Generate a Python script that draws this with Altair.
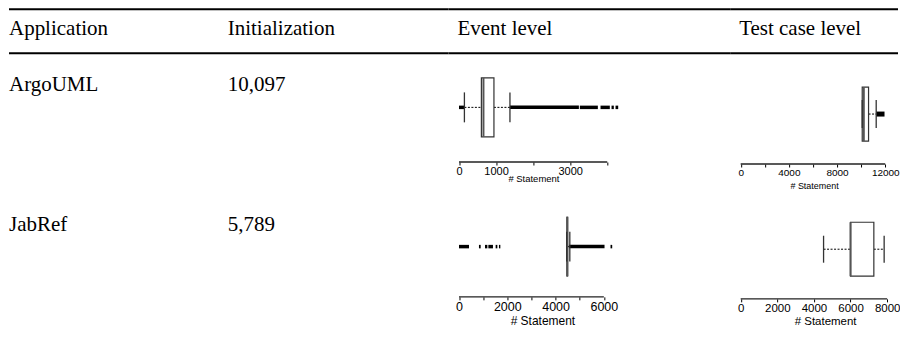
import altair as alt
import pandas as pd

# ---------------- data ----------------
headers_left = ["Application", "Initialization"]
header_event = "Event level"
header_test = "Test case level"

apps = ["ArgoUML", "JabRef"]
init_values = ["10,097", "5,789"]

# event level box statistics (ArgoUML, JabRef)
event_lower = [146, 4460]
event_q1 = [604, 4470]
event_median = [660, 4485]
event_q3 = [943, 4500]
event_upper = [1375, 4590]

# test case level box statistics (ArgoUML, JabRef)
test_lower = [10090, 4527]
test_q1 = [10090, 6000]
test_median = [10220, 6000]
test_q3 = [10615, 7273]
test_upper = [11250, 7836]

# outlier runs (start, end)
argo_event_out_start = [0, 1375, 3261, 3819, 4116, 4224]
argo_event_out_end = [135, 3235, 3747, 4070, 4178, 4296]
jab_event_out_start = [0, 827, 1076, 1216, 1518, 1655, 4551, 6276]
jab_event_out_end = [414, 898, 1175, 1407, 1589, 1713, 6028, 6346]
argo_test_out_start = [11252]
argo_test_out_end = [11940]
jab_test_out_start = []
jab_test_out_end = []

argo_event_ticks = [0, 1000, 2000, 3000, 4000]
argo_event_labels = [0, 1000, 3000]
argo_test_ticks = [0, 2000, 4000, 6000, 8000, 10000, 12000]
argo_test_labels = [0, 4000, 8000, 12000]
jab_event_ticks = [0, 1000, 2000, 3000, 4000, 5000, 6000]
jab_event_labels = [0, 2000, 4000, 6000]
jab_test_ticks = [0, 2000, 4000, 6000, 8000]
jab_test_labels = [0, 2000, 4000, 6000, 8000]

axis_title = "# Statement"

# ---------------- layout ----------------
W_LEFT, W_MID, W_RIGHT = 440, 282, 168
H_HEAD = 47
SERIF = "Liberation Serif"
SANS = "Liberation Sans"


def header_panel(texts, xs, width):
    layers = []
    for t, x in zip(texts, xs):
        layers.append(
            alt.Chart(pd.DataFrame({"t": [t]}))
            .mark_text(font=SERIF, fontSize=21, align="left", baseline="alphabetic", color="black")
            .encode(text="t:N", x=alt.value(x), y=alt.value(27))
        )
    for y in [1, 45]:
        layers.append(
            alt.Chart(pd.DataFrame({"a": [0]}))
            .mark_rule(color="black", strokeWidth=2)
            .encode(x=alt.value(0), x2=alt.value(width), y=alt.value(y))
        )
    return alt.layer(*layers).properties(width=width, height=H_HEAD)


def text_panel(texts, xs, baseline, height):
    layers = []
    for t, x in zip(texts, xs):
        layers.append(
            alt.Chart(pd.DataFrame({"t": [t]}))
            .mark_text(font=SERIF, fontSize=21, align="left", baseline="alphabetic", color="black")
            .encode(text="t:N", x=alt.value(x), y=alt.value(baseline))
        )
    return alt.layer(*layers).properties(width=W_LEFT, height=height)


def box_panel(i, lower, q1, med, q3, upper, out_s, out_e, ticks, labels,
              px_per_unit, width, height, center, box_h, cap_h, out_w,
              label_size, title_size, title_x, title_y):
    offset = 10.5
    d0 = -offset / px_per_unit
    d1 = (width - offset) / px_per_unit
    sc = alt.Scale(domain=[d0, d1], nice=False, zero=False)
    lab = "[" + ",".join(str(v) for v in labels) + "]"
    ax = alt.Axis(
        values=ticks, domain=False, grid=False, ticks=True, tickSize=3,
        tickColor="black", tickWidth=1,
        labelExpr=f"indexof({lab}, datum.value) >= 0 ? format(datum.value, 'd') : ''",
        labelFont=SANS, labelFontSize=label_size, labelColor="black", labelPadding=1,
        labelOverlap=False, labelFlush=False, labelBound=False,
        title=axis_title, titleFont=SANS, titleFontSize=title_size,
        titleFontWeight="normal", titleColor="black", titleX=title_x, titleY=title_y,
        titleBaseline="alphabetic", titleAlign="center",
    )
    stats = pd.DataFrame({"lo": [lower[i]], "q1": [q1[i]], "med": [med[i]],
                          "q3": [q3[i]], "hi": [upper[i]],
                          "a0": [ticks[0]], "a1": [ticks[-1]]})
    layers = []
    if out_s:
        outs = pd.DataFrame({"s": out_s, "e": out_e})
        layers.append(
            alt.Chart(outs).mark_rule(color="black", strokeWidth=out_w, strokeCap="butt")
            .encode(x=alt.X("s:Q", scale=sc, axis=ax), x2="e:Q", y=alt.value(center))
        )
    base = alt.Chart(stats)
    layers += [
        base.mark_rule(color="black", strokeWidth=1, strokeDash=[2, 1.5])
        .encode(x=alt.X("lo:Q", scale=sc, axis=ax), x2="q1:Q", y=alt.value(center)),
        base.mark_rule(color="black", strokeWidth=1, strokeDash=[2, 1.5])
        .encode(x=alt.X("q3:Q", scale=sc, axis=ax), x2="hi:Q", y=alt.value(center)),
        base.mark_rect(fill="white", stroke="#333333", strokeWidth=1.2)
        .encode(x=alt.X("q1:Q", scale=sc, axis=ax), x2="q3:Q",
                y=alt.value(center - box_h / 2), y2=alt.value(center + box_h / 2)),
        base.mark_rule(color="#555555", strokeWidth=2)
        .encode(x=alt.X("med:Q", scale=sc, axis=ax),
                y=alt.value(center - box_h / 2), y2=alt.value(center + box_h / 2)),
        base.mark_rule(color="#333333", strokeWidth=1.3)
        .encode(x=alt.X("lo:Q", scale=sc, axis=ax),
                y=alt.value(center - cap_h / 2), y2=alt.value(center + cap_h / 2)),
        base.mark_rule(color="#333333", strokeWidth=1.3)
        .encode(x=alt.X("hi:Q", scale=sc, axis=ax),
                y=alt.value(center - cap_h / 2), y2=alt.value(center + cap_h / 2)),
        base.mark_rule(color="#222222", strokeWidth=1.4)
        .encode(x=alt.X("a0:Q", scale=sc, axis=ax), x2="a1:Q", y=alt.value(height)),
    ]
    return alt.layer(*layers).properties(width=width, height=height)


h_left = header_panel(headers_left, [0, 219], W_LEFT)
h_mid = header_panel([header_event], [9], W_MID)
h_right = header_panel([header_test], [9], W_RIGHT)

r1_left = text_panel([apps[0], init_values[0]], [0, 219], 36, 109)
r1_mid = box_panel(0, event_lower, event_q1, event_median, event_q3, event_upper,
                   argo_event_out_start, argo_event_out_end,
                   argo_event_ticks, argo_event_labels, 0.0371, W_MID, 107,
                   52.3, 59, 30, 3.5, 11, 9.5, 85, 20)
r1_right = box_panel(0, test_lower, test_q1, test_median, test_q3, test_upper,
                     argo_test_out_start, argo_test_out_end,
                     argo_test_ticks, argo_test_labels, 0.01206, W_RIGHT, 109,
                     59, 54, 28, 5, 10, 9, 84, 25)

r2_left = text_panel([apps[1], init_values[1]], [0, 219], 67, 135)
r2_mid = box_panel(1, event_lower, event_q1, event_median, event_q3, event_upper,
                   jab_event_out_start, jab_event_out_end,
                   jab_event_ticks, jab_event_labels, 0.02417, W_MID, 133,
                   82.7, 59, 30, 3.5, 12.5, 12, 94, 28)
r2_right = box_panel(1, test_lower, test_q1, test_median, test_q3, test_upper,
                     jab_test_out_start, jab_test_out_end,
                     jab_test_ticks, jab_test_labels, 0.01833, W_RIGHT, 135,
                     85.3, 54, 27, 4, 11.5, 11.5, 95, 26)

chart = alt.concat(
    h_left, h_mid, h_right,
    r1_left, r1_mid, r1_right,
    r2_left, r2_mid, r2_right,
    columns=3, spacing=0, bounds="flush", padding=0,
).configure_view(stroke=None)

chart.save("out.html", embed_options={"renderer": "svg", "actions": False})
